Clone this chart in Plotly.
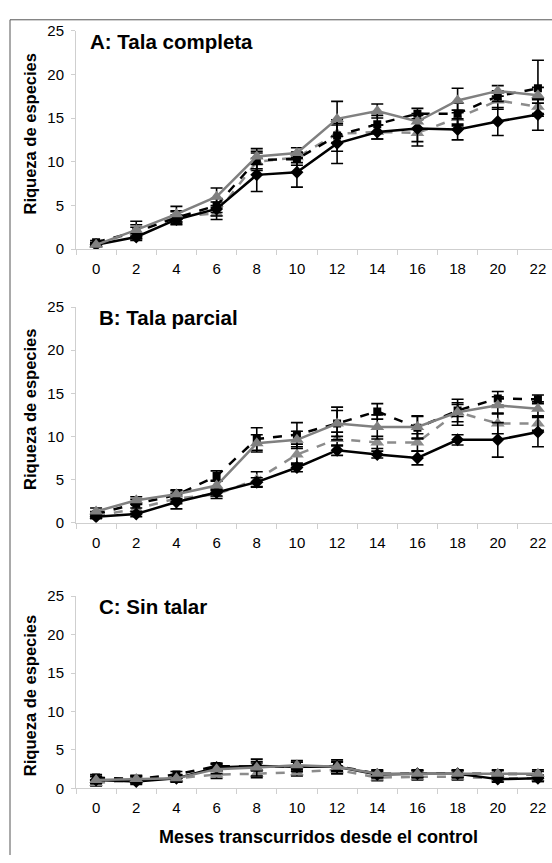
import plotly.graph_objects as go

months = ["0", "2", "4", "6", "8", "10", "12", "14", "16", "18", "20", "22"]
y_ticks = [0, 5, 10, 15, 20, 25]
panel_titles = ["A: Tala completa", "B: Tala parcial", "C: Sin talar"]
y_title = "Riqueza de especies"
x_title = "Meses transcurridos desde el control"

# Panel A
a_diamond = [0.5, 1.4, 3.4, 4.6, 8.5, 8.8, 12.1, 13.4, 13.8, 13.7, 14.6, 15.4]
a_diamond_err = [0.2, 0.4, 0.5, 0.8, 1.9, 1.7, 2.3, 0.8, 1.5, 1.2, 1.6, 1.8]
a_square = [0.8, 2.0, 3.6, 5.0, 10.2, 10.3, 13.0, 14.3, 15.5, 15.5, 17.5, 18.4]
a_square_err = [0.2, 0.8, 0.8, 0.8, 1.0, 0.7, 1.8, 1.0, 0.6, 1.2, 0.6, 3.2]
a_gray = [0.5, 2.2, 4.0, 6.0, 10.6, 11.0, 14.9, 15.8, 14.6, 17.0, 18.1, 17.6]
a_gray_err = [0.2, 1.0, 0.9, 1.0, 0.9, 0.6, 2.0, 0.8, 0.9, 1.4, 0.6, 0.9]
a_gray_dash = [0.6, 2.0, 3.7, 4.1, 10.0, 10.5, 13.2, 13.4, 13.3, 15.0, 17.0, 16.3]
a_gray_dash_err = [0.2, 0.5, 0.6, 0.7, 1.0, 0.6, 1.0, 0.8, 1.5, 0.9, 1.0, 0.8]

# Panel B
b_diamond = [0.7, 1.0, 2.4, 3.5, 4.7, 6.4, 8.4, 7.9, 7.5, 9.6, 9.6, 10.5]
b_diamond_err = [0.2, 0.3, 0.8, 0.4, 0.5, 0.5, 0.6, 0.4, 0.8, 0.6, 2.0, 1.7]
b_square = [1.0, 2.2, 3.2, 5.4, 9.7, 10.2, 11.5, 12.9, 11.0, 13.0, 14.4, 14.3]
b_square_err = [0.3, 0.5, 0.5, 0.6, 1.3, 1.4, 1.9, 0.9, 1.3, 0.7, 0.8, 0.5]
b_gray = [1.3, 2.6, 3.3, 4.3, 9.2, 9.6, 11.5, 11.1, 11.1, 12.8, 13.6, 13.2]
b_gray_err = [0.4, 0.4, 0.5, 0.6, 1.0, 1.0, 1.5, 1.4, 1.3, 1.5, 1.0, 0.8]
b_gray_dash = [0.8, 1.6, 2.8, 3.3, 5.0, 7.9, 9.7, 9.3, 9.3, 12.8, 11.5, 11.5]
b_gray_dash_err = [0.3, 0.5, 0.6, 0.5, 0.9, 1.2, 0.8, 0.7, 1.0, 1.1, 1.2, 0.8]

# Panel C
c_diamond = [1.1, 0.9, 1.3, 2.7, 2.9, 2.8, 2.8, 1.8, 1.9, 1.9, 1.2, 1.3]
c_diamond_err = [0.4, 0.4, 0.4, 0.5, 0.6, 0.6, 0.6, 0.4, 0.4, 0.4, 0.4, 0.4]
c_square = [1.4, 1.2, 1.8, 2.9, 2.8, 2.8, 2.9, 1.9, 1.9, 1.9, 1.9, 1.8]
c_square_err = [0.4, 0.4, 0.4, 0.4, 0.5, 0.6, 0.6, 0.4, 0.4, 0.4, 0.4, 0.4]
c_gray = [1.1, 1.2, 1.3, 2.5, 2.7, 3.0, 2.8, 1.9, 1.9, 1.9, 1.9, 1.9]
c_gray_err = [0.5, 0.5, 0.5, 0.6, 1.1, 0.6, 0.9, 0.5, 0.5, 0.5, 0.5, 0.5]
c_gray_dash = [0.7, 1.1, 1.3, 1.8, 1.9, 2.1, 2.4, 1.4, 1.5, 1.5, 1.3, 1.3]
c_gray_dash_err = [0.4, 0.4, 0.4, 0.5, 0.5, 0.5, 0.5, 0.4, 0.4, 0.4, 0.4, 0.4]

panels = [
    (a_diamond, a_diamond_err, a_square, a_square_err, a_gray, a_gray_err, a_gray_dash, a_gray_dash_err),
    (b_diamond, b_diamond_err, b_square, b_square_err, b_gray, b_gray_err, b_gray_dash, b_gray_dash_err),
    (c_diamond, c_diamond_err, c_square, c_square_err, c_gray, c_gray_err, c_gray_dash, c_gray_dash_err),
]

W, H = 552, 863
# plot-area pixel boxes (top, bottom) and y-title centres
boxes = [(22, 245), (304, 524), (599, 795)]
ytitle_centres = [128, 409, 701]
x_left = 76

FONT = "Liberation Sans, Arial, sans-serif"
GRAY = "#808080"
GRAY2 = "#8c8c8c"
AXC = "#cfcfcf"

fig = go.Figure()

for i, p in enumerate(panels):
    d, de, s, se, g, ge, gd, gde = p
    xa = "x" if i == 0 else f"x{i+1}"
    ya = "y" if i == 0 else f"y{i+1}"
    err = lambda arr: dict(type="data", array=arr, visible=True, color="black", thickness=1.6, width=6)
    fig.add_trace(go.Scatter(x=months, y=gd, mode="lines+markers", xaxis=xa, yaxis=ya,
                             line=dict(color=GRAY2, width=2.5, dash="dash"),
                             marker=dict(symbol="triangle-up", size=12, color=GRAY2),
                             error_y=err(gde), showlegend=False))
    fig.add_trace(go.Scatter(x=months, y=d, mode="lines+markers", xaxis=xa, yaxis=ya,
                             line=dict(color="black", width=2.5),
                             marker=dict(symbol="diamond", size=10, color="black"),
                             error_y=err(de), showlegend=False))
    fig.add_trace(go.Scatter(x=months, y=s, mode="lines+markers", xaxis=xa, yaxis=ya,
                             line=dict(color="black", width=2.5, dash="dash"),
                             marker=dict(symbol="square", size=8, color="black"),
                             error_y=err(se), showlegend=False))
    fig.add_trace(go.Scatter(x=months, y=g, mode="lines+markers", xaxis=xa, yaxis=ya,
                             line=dict(color=GRAY, width=2.5),
                             marker=dict(symbol="triangle-up", size=12, color=GRAY),
                             error_y=err(ge), showlegend=False))

    top, bot = boxes[i]
    xkey = "xaxis" if i == 0 else f"xaxis{i+1}"
    ykey = "yaxis" if i == 0 else f"yaxis{i+1}"
    fig.update_layout({
        xkey: dict(domain=[x_left / W, 1.0], anchor=ya, type="category",
                   categoryorder="array", categoryarray=months,
                   range=[-0.5, 11.35], tickson="boundaries", ticks="outside",
                   ticklen=5, tickcolor=AXC, showline=True, linecolor=AXC, linewidth=1,
                   showgrid=False, zeroline=False, ticklabelstandoff=6,
                   tickfont=dict(family=FONT, size=15, color="black")),
        ykey: dict(domain=[1 - bot / H, 1 - top / H], anchor=xa, range=[0, 25],
                   tickvals=y_ticks, ticks="outside", ticklen=4, tickcolor=AXC,
                   showline=True, linecolor=AXC, linewidth=1, showgrid=False,
                   zeroline=False, ticklabelstandoff=4,
                   tickfont=dict(family=FONT, size=15, color="black")),
    })
    # panel title
    fig.add_annotation(text=f"<b>{panel_titles[i]}</b>", xref="paper", yref="paper",
                       x=(88 if i == 0 else 97) / W, y=1 - (top + 11) / H,
                       xanchor="left", yanchor="middle", showarrow=False,
                       font=dict(family=FONT, size=20.5, color="black"))
    # y title
    fig.add_annotation(text=f"<b>{y_title}</b>", xref="paper", yref="paper",
                       x=30 / W, y=1 - ytitle_centres[i] / H, textangle=-90,
                       xanchor="center", yanchor="middle", showarrow=False,
                       font=dict(family=FONT, size=16.5, color="black"))

fig.add_annotation(text=f"<b>{x_title}</b>", xref="paper", yref="paper",
                   x=318 / W, y=1 - 845 / H, xanchor="center", yanchor="middle",
                   showarrow=False, font=dict(family=FONT, size=18, color="black"))

# outer frame (left and top edges visible)
fig.add_shape(type="line", xref="paper", yref="paper", x0=10 / W, x1=10 / W,
              y0=0, y1=1 - 11 / H, line=dict(color="#555555", width=1))
fig.add_shape(type="line", xref="paper", yref="paper", x0=10 / W, x1=1,
              y0=1 - 11 / H, y1=1 - 11 / H, line=dict(color="#555555", width=1))

fig.update_layout(width=W, height=H, margin=dict(l=0, r=0, t=0, b=0),
                  paper_bgcolor="white", plot_bgcolor="white",
                  font=dict(family=FONT, color="black"))

fig.write_html("out.html", config={"displayModeBar": False},
               post_script="document.body.style.margin='0';document.body.style.overflow='hidden';")
